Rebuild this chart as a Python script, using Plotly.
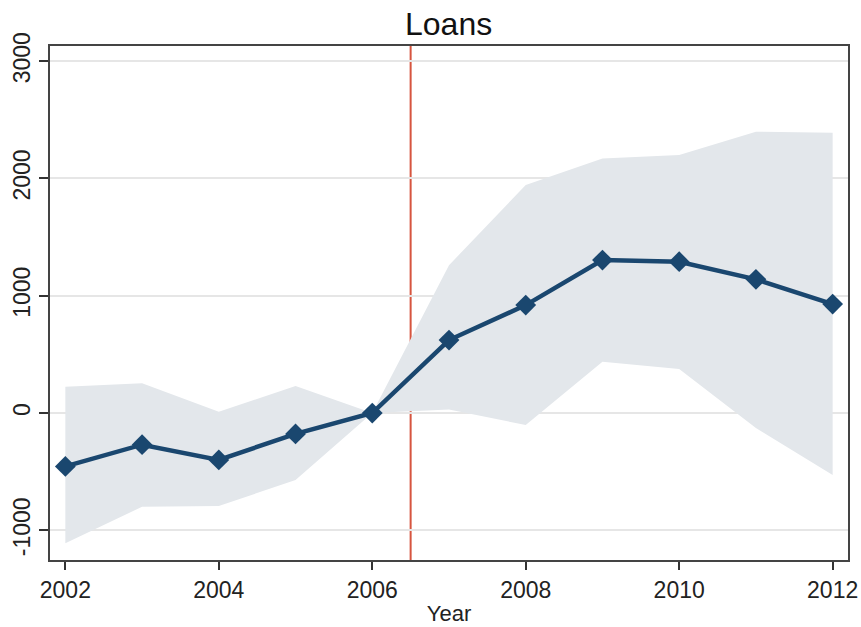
import plotly.graph_objects as go

# Event-study estimates for loans, with confidence band
years = [2002, 2003, 2004, 2005, 2006, 2007, 2008, 2009, 2010, 2011, 2012]
estimate = [-455, -270, -400, -178, 0, 622, 920, 1304, 1290, 1140, 929]
ci_upper = [224, 253, 11, 230, 0, 1260, 1944, 2170, 2200, 2398, 2390]
ci_lower = [-1111, -799, -793, -571, 0, 30, -102, 437, 375, -128, -529]

event_year = 2006.5
x_ticks = [2002, 2004, 2006, 2008, 2010, 2012]
y_ticks = [-1000, 0, 1000, 2000, 3000]

navy = "#1a476f"
band = "#e3e7eb"
font_family = "Liberation Sans, Arial, Helvetica, sans-serif"

fig = go.Figure()

# confidence band: lower bound first, then fill up to the upper bound
fig.add_trace(go.Scatter(
    x=years, y=ci_lower, mode="lines", line=dict(width=0, color=band),
    showlegend=False, hoverinfo="skip",
))
fig.add_trace(go.Scatter(
    x=years, y=ci_upper, mode="lines", line=dict(width=0, color=band),
    fill="tonexty", fillcolor=band, showlegend=False, hoverinfo="skip",
))

# point estimates
fig.add_trace(go.Scatter(
    x=years, y=estimate, mode="lines+markers",
    line=dict(color=navy, width=4.5),
    marker=dict(symbol="diamond", size=16, color=navy),
    showlegend=False,
))

# treatment timing marker (sits beneath the band)
fig.add_shape(
    type="line", x0=event_year, x1=event_year, y0=0, y1=1,
    xref="x", yref="paper", layer="below",
    line=dict(color="#d6553f", width=2),
)

fig.update_layout(
    width=861, height=627,
    margin=dict(l=50, r=13, t=46, b=67),
    paper_bgcolor="white", plot_bgcolor="white",
    font=dict(family=font_family, color="#111111"),
    title=dict(text="Loans", x=0.521, xanchor="center", y=0.962, yanchor="middle",
               font=dict(size=32, color="#111111")),
)

fig.update_xaxes(
    range=[2001.8, 2012.2], tickvals=x_ticks, ticktext=[str(v) for v in x_ticks],
    ticks="outside", ticklen=8, tickwidth=1.5, tickcolor="#333333",
    tickfont=dict(size=23, color="#222222"),
    showgrid=False, zeroline=False, automargin=False,
    showline=True, linecolor="#444444", linewidth=1.8, mirror=True,
    title=dict(text="Year", font=dict(size=22, color="#222222"), standoff=4),
)

fig.update_yaxes(
    range=[-1253, 3129], tickvals=y_ticks, ticktext=[str(v) for v in y_ticks],
    ticks="outside", ticklen=9, tickwidth=1.5, tickcolor="#333333",
    tickangle=-90, tickfont=dict(size=23, color="#222222"),
    showgrid=True, gridcolor="#e6e6e6", gridwidth=1.5, zeroline=False,
    automargin=False,
    showline=True, linecolor="#444444", linewidth=1.8, mirror=True,
)

fig.write_html("out.html")
